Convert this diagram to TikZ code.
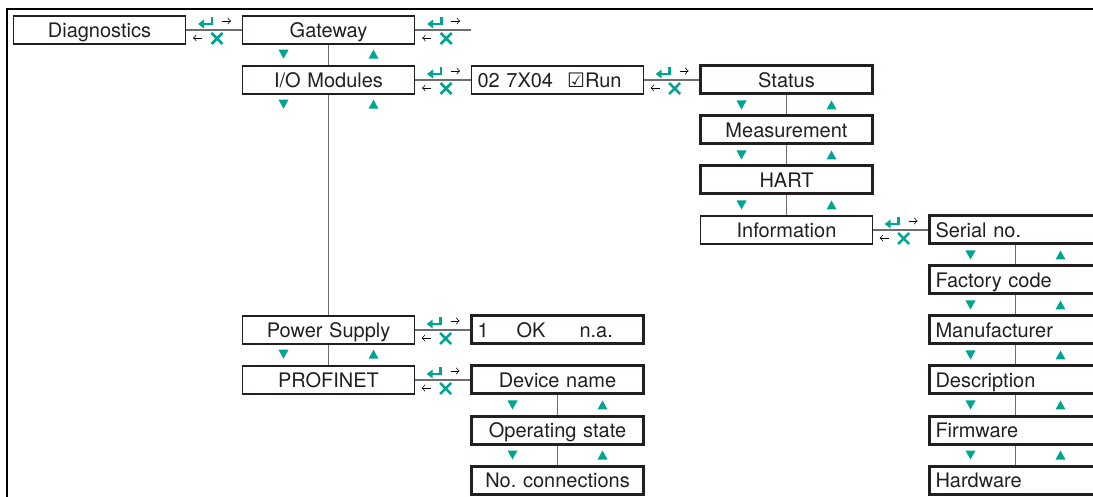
\documentclass[tikz,border=0pt]{standalone}
\usepackage{fontspec}
\setmainfont{TeX Gyre Heros}
\newfontfamily\symfont{DejaVu Sans}
\usetikzlibrary{arrows,positioning,calc}

\definecolor{navteal}{RGB}{0,165,146}
\definecolor{boxline}{RGB}{35,31,32}
\definecolor{connline}{RGB}{110,110,110}

\tikzset{
    menu/.style={draw=boxline, line width=0.7pt, text=boxline,
        font=\fontsize{10}{12}\selectfont\frenchspacing, text width=80pt, inner xsep=3pt,
        inner ysep=0pt, minimum height=14pt, text height=7.3pt, text depth=0pt, align=center},
    sel/.style={line width=1.5pt},
    lft/.style={align=left},
    conn/.style={draw=connline, line width=0.7pt},
    % enter / escape signs on a horizontal connector
    nav/.pic={
        \draw [navteal, line width=1.4pt] (-2,-13) -- (-2,-6) -- (-11,-6);
        \fill [navteal] (-16,-6) -- (-10,-10.5) -- (-10,-1.5) -- cycle;
        \draw [navteal, line width=1.3pt] (-2.5,3) -- (8.5,14) (-2.5,14) -- (8.5,3);
        \draw [-to, line width=0.35pt] (8,-9) -- (17,-9);
        \draw [-to, line width=0.35pt] (-12,8) -- (-21,8);
    },
    % down / up signs below a box
    updown/.pic={
        \fill [navteal] (-50,5) -- (-40,5) -- (-45,14) -- cycle;
        \fill [navteal] (40,14) -- (50,14) -- (45,5) -- cycle;
    }
}

\begin{document}
\begin{tikzpicture}[x=0.5pt, y=-0.5pt, node distance=25pt and 114.5pt, on grid]
    \useasboundingbox (0,0) rectangle (1093,497);
    \draw [line width=1pt] (7,497) -- (7,9) -- (1093,9);

    % Nodes
    \node [menu]            (diag)      at (99.5,30)        {Diagnostics};
    \node [menu]            (gw)        [right=of diag]     {Gateway};
    \node [menu]            (iomod)     [below=of gw]       {I/O Modules};
    \node [menu, lft]       (modval)    [right=of iomod]    {02 7X04\hspace{7pt}{\symfont ☑}Run};
    \node [menu, sel]       (status)    [right=of modval]   {Status};
    \node [menu, sel]       (meas)      [below=of status]   {Measurement};
    \node [menu, sel]       (hart)      [below=of meas]     {HART};
    \node [menu]            (info)      [below=of hart]     {Information};
    \node [menu, sel, lft]  (serial)    [right=of info]     {Serial no.};
    \node [menu, sel, lft]  (factory)   [below=of serial]   {Factory code};
    \node [menu, sel, lft]  (manuf)     [below=of factory]  {Manufacturer};
    \node [menu, sel, lft]  (descr)     [below=of manuf]    {Description};
    \node [menu, sel, lft]  (firmware)  [below=of descr]    {Firmware};
    \node [menu, sel, lft]  (hardware)  [below=of firmware] {Hardware};
    \node [menu]            (power)     [below=125pt of iomod] {Power Supply};
    \node [menu, sel, lft]  (psval)     [right=of power]    {1\hspace{14pt}OK\hspace{17pt}n.a.};
    \node [menu]            (profinet)  [below=of power]    {PROFINET};
    \node [menu, sel]       (devname)   [right=of profinet] {Device name};
    \node [menu, sel]       (opstate)   [below=of devname]  {Operating state};
    \node [menu, sel]       (noconn)    [below=of opstate]  {No. connections};
    \coordinate             (gwend)     at ([xshift=28pt]gw.east);

    % Paths
    \path [conn]    (diag)      edge    (gw);
    \path [conn]    (gw)        edge    (gwend);
    \path [conn]    (iomod)     edge    (modval);
    \path [conn]    (modval)    edge    (status);
    \path [conn]    (info)      edge    (serial);
    \path [conn]    (power)     edge    (psval);
    \path [conn]    (profinet)  edge    (devname);
    \path [conn]    (gw)        edge    (iomod);
    \path [conn]    (iomod)     edge    (power);
    \path [conn]    (power)     edge    (profinet);
    \path [conn]    (status)    edge    (meas);
    \path [conn]    (meas)      edge    (hart);
    \path [conn]    (hart)      edge    (info);
    \path [conn]    (serial)    edge    (factory);
    \path [conn]    (factory)   edge    (manuf);
    \path [conn]    (manuf)     edge    (descr);
    \path [conn]    (descr)     edge    (firmware);
    \path [conn]    (firmware)  edge    (hardware);
    \path [conn]    (devname)   edge    (opstate);
    \path [conn]    (opstate)   edge    (noconn);

    % Signs
    \pic at ($(diag.east)!.5!(gw.west)$)        {nav};
    \pic at ($(gw.east)!.5!(gwend)$)            {nav};
    \pic at ($(iomod.east)!.5!(modval.west)$)   {nav};
    \pic at ($(modval.east)!.5!(status.west)$)  {nav};
    \pic at ($(info.east)!.5!(serial.west)$)    {nav};
    \pic at ($(power.east)!.5!(psval.west)$)    {nav};
    \pic at ($(profinet.east)!.5!(devname.west)$) {nav};
    \foreach \n in {gw, iomod, power, status, meas, hart, serial, factory, manuf, descr, firmware, devname, opstate}
        \pic at (\n.south) {updown};
\end{tikzpicture}
\end{document}
